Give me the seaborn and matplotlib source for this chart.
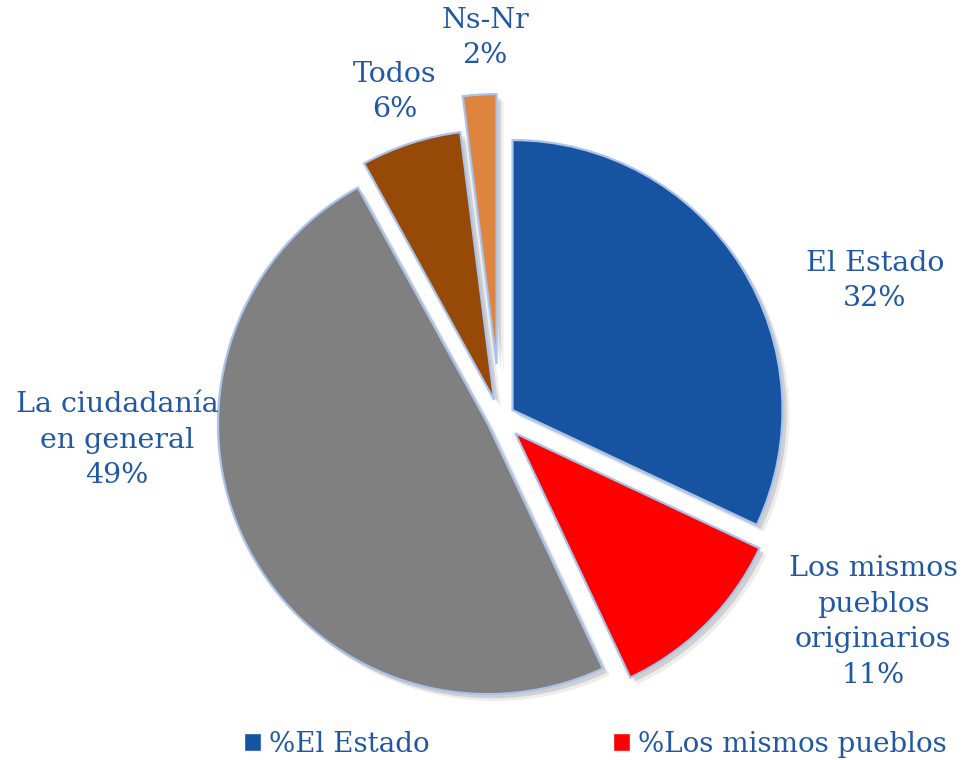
import matplotlib
matplotlib.use("Agg")
import matplotlib.pyplot as plt
import matplotlib.patheffects as pe
from matplotlib.patches import Patch
import seaborn as sns

# datos
categorias = ["El Estado", "Los mismos\npueblos\noriginarios", "La ciudadanía\nen general", "Todos", "Ns-Nr"]
porcentajes = [32, 11, 49, 6, 2]
leyenda = ["%El Estado", "%Los mismos pueblos"]
colores = ["#1653A1", "#FF0000", "#808080", "#974A07", "#DD843E"]
separacion = [0.055, 0.08, 0.05, 0.07, 0.2]

# posiciones de etiquetas en pixeles (x, y desde arriba)
pos_etiquetas = [(875, 281), (873, 622), (117, 440), (395, 92), (485, 38)]

sns.set_theme(style="white")
plt.rcParams['font.family'] = ['DejaVu Serif']
azul_texto = "#2158A6"

W, H = 963, 760
fig = plt.figure(figsize=(W / 100, H / 100), dpi=100)
ax = fig.add_axes([0, 0, 1, 1])

sombra = [pe.SimplePatchShadow(offset=(5, -5), shadow_rgbFace="black", alpha=0.07),
          pe.SimplePatchShadow(offset=(3, -3), shadow_rgbFace="black", alpha=0.12),
          pe.Normal()]

wedges, _ = ax.pie(porcentajes, colors=colores, explode=separacion, startangle=90,
                   counterclock=False, radius=1,
                   wedgeprops=dict(edgecolor="#A9C3EB", linewidth=1.6))
for w in wedges:
    w.set_path_effects(sombra)

R = 270.0
cx, cy = 500, 418
ax.set_xlim(-cx / R, (W - cx) / R)
ax.set_ylim(-(H - cy) / R, cy / R)
ax.set_aspect("equal")
ax.axis("off")

for cat, p, (px, py) in zip(categorias, porcentajes, pos_etiquetas):
    fig.text(px / W, 1 - py / H, f"{cat}\n{p}%", ha="center", va="center",
             fontsize=20.5, color=azul_texto, linespacing=1.4)

handles = [Patch(facecolor=colores[0]), Patch(facecolor=colores[1])]
fig.legend(handles, leyenda, loc="center left", bbox_to_anchor=(219 / W, 1 - 744 / H),
           ncol=2, frameon=False, fontsize=20, labelcolor=azul_texto,
           handlelength=0.6, handleheight=0.6, handletextpad=0.3, columnspacing=6.6)

fig.savefig("out.png", dpi=100)
